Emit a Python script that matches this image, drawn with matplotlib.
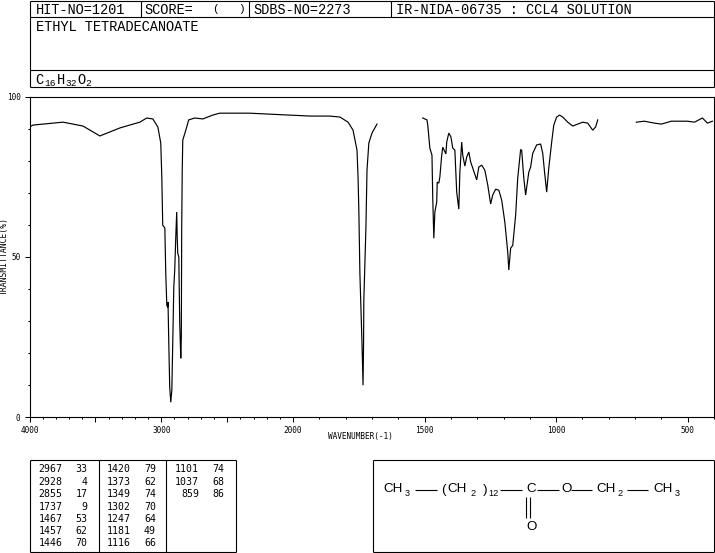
import numpy as np
import matplotlib
matplotlib.use("Agg")
import matplotlib.pyplot as plt
from matplotlib.ticker import FixedLocator, FixedFormatter

# --- spectrum values (wavenumber, %T), three separate traces ---
wn_a = [4000,3973,3746,3595,3557,3466,3314,3163,3110,3064,3026,3004,2996,2989,2973,2966,2958,2951,2949,2943,2936,2928,2920,2913,2905,2898,2890,2883,2879,2875,2867,2860,2852,2848,2845,2841,2837,2814,2792,2746,2685,2610,2557,2329,2178,2026,1935,1860,1822,1791,1772,1757,1753,1750,1746,1738,1734,1732,1731,1723,1719,1712,1700,1681]
t_a = [90.5,91.1,92.0,90.8,89.9,87.7,90.2,92.0,93.3,93.0,90.5,85.5,74.9,59.9,59.0,44.9,34.9,34.3,35.9,23.1,9.4,4.7,8.4,23.1,40.6,45.9,56.2,64.0,55.8,51.2,49.9,29.3,18.4,25.0,59.3,77.0,86.4,89.5,92.7,93.3,93.0,94.2,94.8,94.8,94.5,94.2,93.9,93.9,93.6,92.0,89.5,83.3,74.9,64.6,44.9,23.1,10.0,23.1,36.5,59.3,77.0,85.5,88.6,91.4]
wn_b = [1507,1491,1488,1480,1472,1469,1465,1461,1454,1452,1446,1442,1435,1431,1419,1416,1408,1400,1393,1385,1378,1370,1366,1359,1355,1347,1340,1332,1325,1317,1302,1294,1283,1271,1260,1249,1241,1230,1218,1207,1195,1184,1180,1173,1165,1154,1146,1135,1131,1123,1116,1104,1097,1089,1074,1059,1051,1044,1036,1028,1017,1009,998,987,975,956,937,918,899,880,861,850,842]
t_b = [93.3,92.7,91.1,83.9,81.7,68.3,55.8,64.0,67.1,73.3,73.0,74.9,81.7,84.2,82.1,85.8,88.6,87.4,83.9,83.3,70.2,64.9,76.4,85.8,81.7,78.3,81.1,82.7,79.6,77.7,74.0,78.0,78.6,77.0,72.4,66.5,69.3,71.1,70.8,67.7,60.8,51.5,45.9,52.7,53.6,63.0,74.6,83.5,83.2,74.6,69.3,76.4,78.0,82.3,84.9,85.2,82.3,76.4,70.2,77.7,85.8,91.1,93.6,94.2,93.6,92.0,90.8,91.4,92.0,91.7,89.5,90.5,92.7]
wn_c = [695,665,626,600,562,501,474,444,425,406]
t_c = [92.0,92.3,91.7,91.4,92.3,92.3,92.0,93.3,91.7,92.3]

# --- peak table ---
peak_col1 = [("2967","33"),("2928","4"),("2855","17"),("1737","9"),("1467","53"),("1457","62"),("1446","70")]
peak_col2 = [("1420","79"),("1373","62"),("1349","74"),("1302","70"),("1247","64"),("1181","49"),("1116","66")]
peak_col3 = [("1101","74"),("1037","68"),("859","86")]

# --- axis ticks ---
x_major = [4000,3500,3000,2500,2000,1500,1000,500]
x_labels = ["4000","","3000","","2000","1500","1000","500"]
x_minor = [w for w in range(400,4000,100) if w % 500 != 0]
y_major = [0,50,100]
y_minor = [10,20,30,40,60,70,80,90]

W, H = 715, 553
fig = plt.figure(figsize=(W/100, H/100), dpi=100, facecolor="white")
MONO = "Liberation Mono"
SMALL = "DejaVu Sans Mono"
LW = 0.85

# --- spectrum axes ---
L, R, T, B = 29.5, 714, 96.5, 417.3
ax = fig.add_axes([L/W, 1-B/H, (R-L)/W, (B-T)/H])

def fwd(x):
    x = np.asarray(x, dtype=float)
    return -np.where(x >= 2000, (4000-x)*0.132, 264+(2000-x)*0.26352)

def inv(p):
    p = -np.asarray(p, dtype=float)
    return np.where(p <= 264, 4000-p/0.132, 2000-(p-264)/0.26352)

ax.set_xscale("function", functions=(fwd, inv))
ax.set_xlim(4000, 400)
ax.set_ylim(0, 100)
for w, t in ((wn_a, t_a), (wn_b, t_b), (wn_c, t_c)):
    ax.plot(w, t, color="black", lw=LW, solid_joinstyle="miter")

ax.xaxis.set_major_locator(FixedLocator(x_major))
ax.xaxis.set_major_formatter(FixedFormatter(x_labels))
ax.xaxis.set_minor_locator(FixedLocator(x_minor))
ax.xaxis.set_minor_formatter(FixedFormatter([""]*len(x_minor)))
ax.yaxis.set_major_locator(FixedLocator(y_major))
ax.yaxis.set_minor_locator(FixedLocator(y_minor))
ax.tick_params(axis="both", which="major", length=3.5, width=0.75, labelsize=5.6, pad=3)
ax.tick_params(axis="both", which="minor", length=1.5, width=0.75)
for lab in ax.get_xticklabels() + ax.get_yticklabels():
    lab.set_family(SMALL)
for s in ax.spines.values():
    s.set_linewidth(0.8)

# --- overlay in pixel units for the text boxes ---
ov = fig.add_axes([0, 0, 1, 1], facecolor="none")
ov.set_xlim(0, W)
ov.set_ylim(H, 0)
ov.axis("off")

def line(x0, y0, x1, y1, lw=0.8):
    ov.plot([x0, x1], [y0, y1], color="black", lw=lw, solid_capstyle="butt")

def box(x0, y0, x1, y1):
    line(x0, y0, x1, y0); line(x1, y0, x1, y1); line(x1, y1, x0, y1); line(x0, y1, x0, y0)

def txt(x, y, s, size=9.8, fam=MONO, ha="left", **kw):
    ov.text(x, y, s, fontsize=size, family=fam, ha=ha, va="center", color="black", **kw)

# header
box(29.5, 0.5, 714, 87.2)
line(29.5, 17.3, 714, 17.3)
line(29.5, 69.5, 714, 69.5)
for xv in (141, 248.5, 390.7):
    line(xv, 0.5, xv, 17.3)
txt(35.5, 9.5, "HIT-NO=1201")
txt(144, 9.5, "SCORE=")
txt(212, 9.5, "(", size=8)
txt(238, 9.5, ")", size=8)
txt(253, 9.5, "SDBS-NO=2273")
txt(396, 9.5, "IR-NIDA-06735 : CCL4 SOLUTION")
txt(35.5, 27, "ETHYL TETRADECANOATE")

# formula
for x, s in ((35.5, "C"), (56.5, "H"), (77, "O")):
    txt(x, 79.5, s)
for x, s in ((44.5, "16"), (65, "32"), (85, "2")):
    txt(x, 83, s, size=6.8)

# axis titles
txt(4.5, 256, "TRANSMITTANCE(%)", size=5.8, fam=SMALL, rotation=90, ha="center")
txt(328, 437, "WAVENUMBER(-1)", size=5.6, fam=SMALL)

# peak table
box(29.5, 460.3, 235.5, 552.3)
line(98.7, 460.3, 98.7, 552.3)
line(166.3, 460.3, 166.3, 552.3)
row_y = [469.5, 481.8, 494.2, 506.6, 519, 531.2, 543.5]
for rows, xa, xb in ((peak_col1, 62.5, 87.5), (peak_col2, 131, 156), (peak_col3, 199, 224)):
    for (a, b), y in zip(rows, row_y):
        txt(xa, y, a, size=7.1, fam=SMALL, ha="right")
        txt(xb, y, b, size=7.1, fam=SMALL, ha="right")

# structure box
box(372.5, 460.3, 714, 552.3)
SANS = "Liberation Sans"
ya = 489.5
for x, s in ((383, "CH"), (447, "CH"), (596, "CH"), (653, "CH")):
    txt(x, ya, s, size=9.6, fam=SANS)
txt(441, ya, "(", size=9.6, fam=SANS)
txt(483, ya, ")", size=9.6, fam=SANS)
txt(526, ya, "C", size=9.6, fam=SANS)
txt(561, ya, "O", size=9.6, fam=SANS)
txt(526, 527, "O", size=9.6, fam=SANS)
for x, s in ((405, "3"), (470, "2"), (488, "12"), (617, "2"), (675, "3")):
    txt(x, ya+4, s, size=6.6, fam=SANS)
for x0, x1 in ((415, 437), (500, 522), (537, 559), (571, 592), (627, 648)):
    line(x0, ya, x1, ya)
line(526.3, 497, 526.3, 518)
line(530, 497, 530, 518)

fig.savefig("out.png", dpi=100, facecolor="white")
